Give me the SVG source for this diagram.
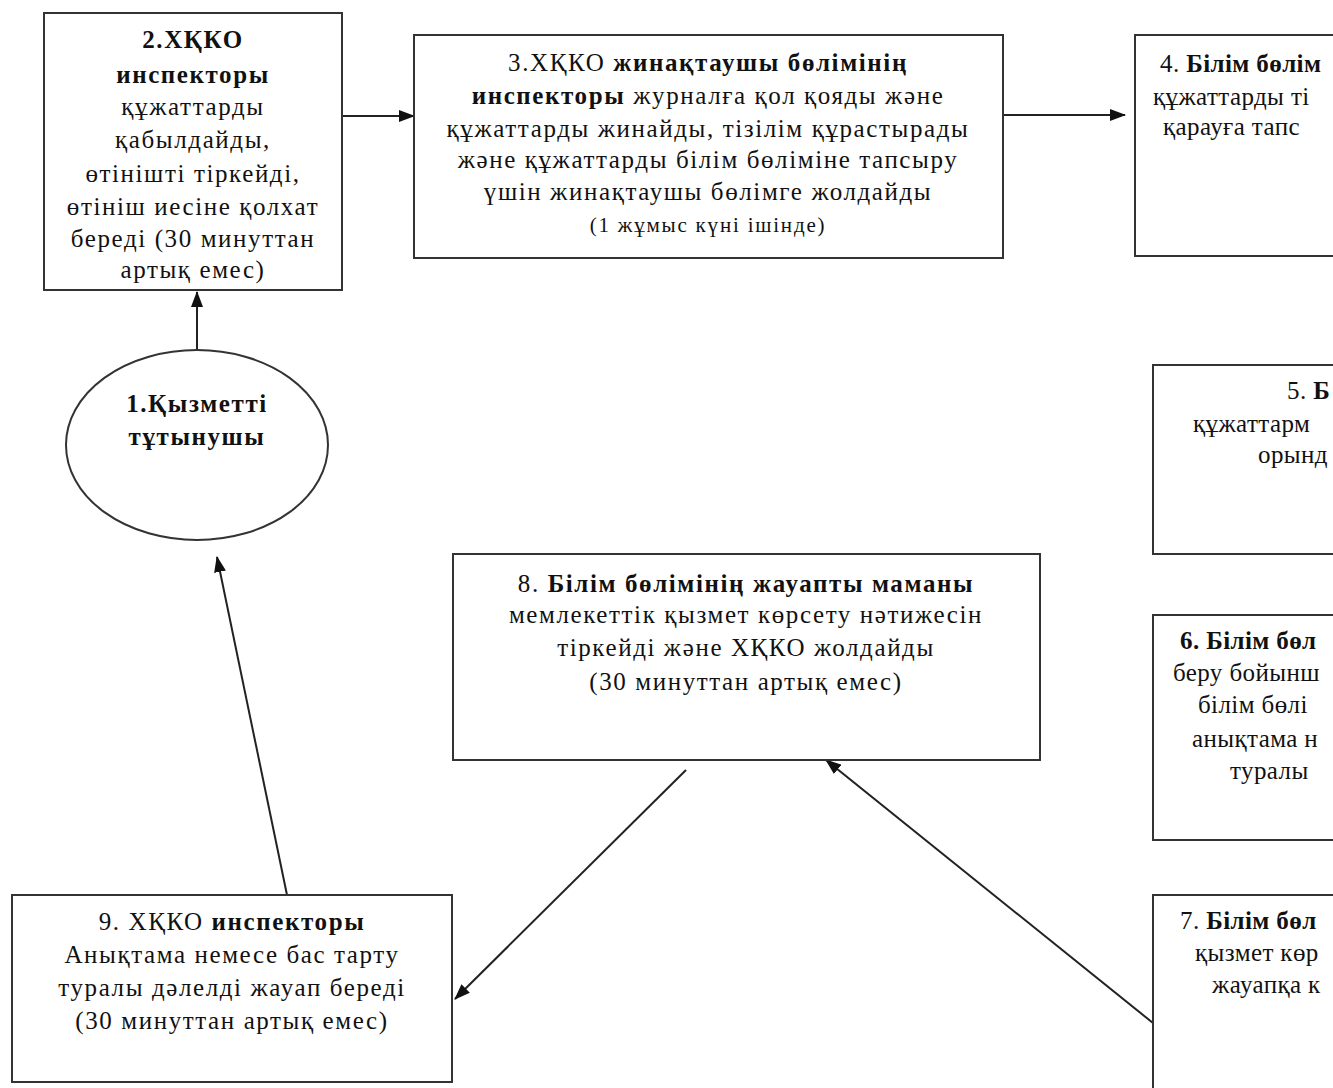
<svg xmlns="http://www.w3.org/2000/svg" width="1333" height="1088" viewBox="0 0 1333 1088">
<style>
.box{fill:#fff;stroke:#333;stroke-width:2}
.t{font-family:"Liberation Serif","DejaVu Serif",serif;font-size:25px;letter-spacing:1.6px;fill:#111}
.c{text-anchor:middle}
.b{font-weight:bold}
.s{font-size:21px;letter-spacing:1.8px}
.r{letter-spacing:0.4px}
.ln{stroke:#222;stroke-width:2;fill:none;marker-end:url(#ah)}
</style>
<defs>
<marker id="ah" markerUnits="userSpaceOnUse" markerWidth="16" markerHeight="12" refX="15" refY="6" orient="auto">
<path d="M0,0 L16,6 L0,12 Z" fill="#111"/>
</marker>
</defs>
<rect width="1333" height="1088" fill="#fff"/>

<g id="connectors">
<line class="ln" x1="197" y1="350" x2="197" y2="292"/>
<line class="ln" x1="342" y1="116" x2="414" y2="116"/>
<line class="ln" x1="1003" y1="115" x2="1125" y2="115"/>
<line class="ln" x1="287" y1="895" x2="217" y2="557"/>
<line class="ln" x1="686" y1="770" x2="455" y2="999"/>
<line class="ln" x1="1153" y1="1023" x2="826" y2="760"/>
</g>

<g id="node1">
<ellipse class="box" cx="197" cy="445" rx="131" ry="95"/>
<text class="t c b" x="197" y="412">1.Қызметті</text>
<text class="t c b" x="197" y="445">тұтынушы</text>
</g>

<g id="node2">
<rect class="box" x="44" y="13" width="298" height="277"/>
<text class="t c b" x="193" y="48">2.ХҚКО</text>
<text class="t c b" x="193" y="83">инспекторы</text>
<text class="t c" x="193" y="115">құжаттарды</text>
<text class="t c" x="193" y="148">қабылдайды,</text>
<text class="t c" x="193" y="182">өтінішті тіркейді,</text>
<text class="t c" x="193" y="215">өтініш иесіне қолхат</text>
<text class="t c" x="193" y="247">береді (30 минуттан</text>
<text class="t c" x="193" y="278">артық емес)</text>
</g>

<g id="node3">
<rect class="box" x="414" y="35" width="589" height="223"/>
<text class="t c" x="708" y="71">3.ХҚКО <tspan class="b">жинақтаушы бөлімінің</tspan></text>
<text class="t c" x="708" y="104"><tspan class="b">инспекторы</tspan> журналға қол қояды және</text>
<text class="t c" x="708" y="137">құжаттарды жинайды, тізілім құрастырады</text>
<text class="t c" x="708" y="168">және құжаттарды білім бөліміне тапсыру</text>
<text class="t c" x="708" y="200">үшін жинақтаушы бөлімге жолдайды</text>
<text class="t c s" x="708" y="232">(1 жұмыс күні ішінде)</text>
</g>

<g id="node4">
<rect class="box" x="1135" y="35" width="260" height="221"/>
<text class="t r" x="1160" y="72">4. <tspan class="b">Білім бөлім</tspan></text>
<text class="t r" x="1153" y="105">құжаттарды ті</text>
<text class="t r" x="1163" y="135">қарауға тапс</text>
</g>

<g id="node5">
<rect class="box" x="1153" y="365" width="250" height="189"/>
<text class="t r" x="1287" y="399">5. <tspan class="b">Б</tspan></text>
<text class="t r" x="1193" y="432">құжаттарм</text>
<text class="t r" x="1258" y="463">орынд</text>
</g>

<g id="node6">
<rect class="box" x="1153" y="615" width="250" height="225"/>
<text class="t r b" x="1180" y="649">6. Білім бөл</text>
<text class="t r" x="1173" y="681">беру бойынш</text>
<text class="t r" x="1198" y="713">білім бөлі</text>
<text class="t r" x="1192" y="747">анықтама н</text>
<text class="t r" x="1230" y="779">туралы</text>
</g>

<g id="node7">
<rect class="box" x="1153" y="895" width="250" height="220"/>
<text class="t r" x="1180" y="929">7. <tspan class="b">Білім бөл</tspan></text>
<text class="t r" x="1195" y="961">қызмет көр</text>
<text class="t r" x="1212" y="993">жауапқа к</text>
</g>

<g id="node8">
<rect class="box" x="453" y="554" width="587" height="206"/>
<text class="t c" x="746" y="592">8. <tspan class="b">Білім бөлімінің жауапты маманы</tspan></text>
<text class="t c" x="746" y="623">мемлекеттік қызмет көрсету нәтижесін</text>
<text class="t c" x="746" y="656">тіркейді және ХҚКО жолдайды</text>
<text class="t c" x="746" y="690">(30 минуттан артық емес)</text>
</g>

<g id="node9">
<rect class="box" x="12" y="895" width="440" height="187"/>
<text class="t c" x="232" y="930">9. ХҚКО <tspan class="b">инспекторы</tspan></text>
<text class="t c" x="232" y="963">Анықтама немесе бас тарту</text>
<text class="t c" x="232" y="996">туралы дәлелді жауап береді</text>
<text class="t c" x="232" y="1029">(30 минуттан артық емес)</text>
</g>
</svg>
